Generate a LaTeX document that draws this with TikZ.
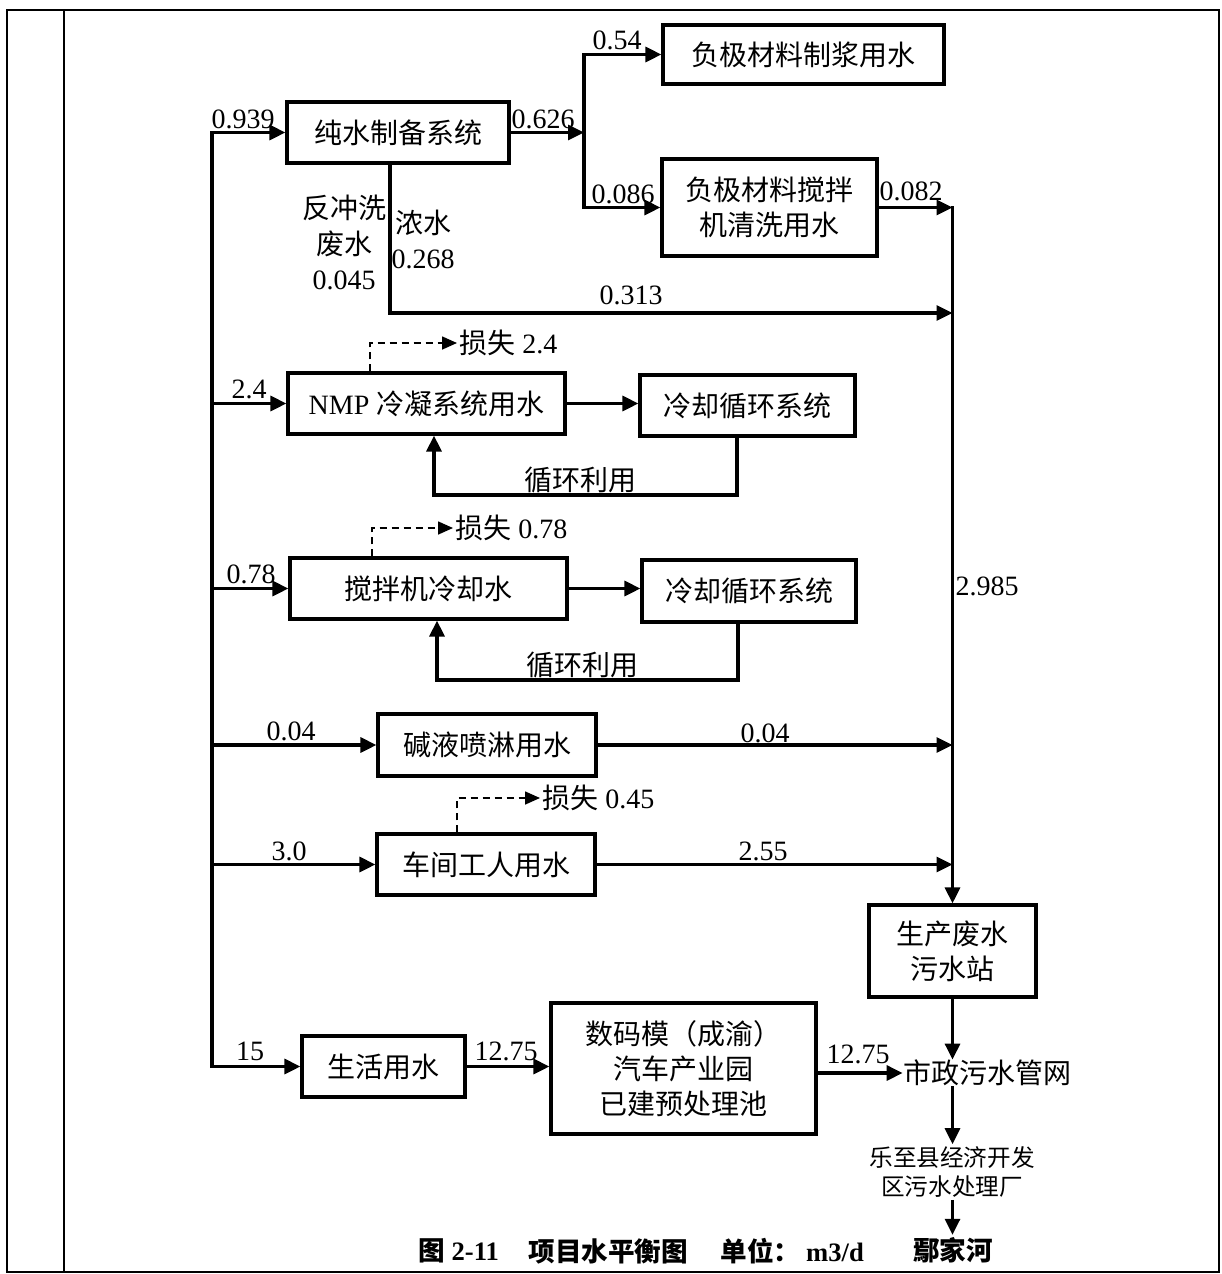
\documentclass[tikz,border=0pt]{standalone}
\usepackage{fontspec}
\setmainfont{Liberation Serif}
\newfontfamily\cjk{Noto Sans CJK SC}
\usetikzlibrary{arrows.meta}
\newcommand\myfs{\fontsize{14pt}{17.5pt}\selectfont}
\newcommand\mysmall{\fontsize{11.8pt}{14.5pt}\selectfont}
\newcommand\mycap{\fontsize{13.3pt}{16pt}\selectfont\bfseries}
\begin{document}
\begin{tikzpicture}[x=0.5pt,y=-0.5pt,
  box/.style={draw, line width=1.6pt, inner sep=0pt, align=center, font=\myfs},
  lbl/.style={inner sep=1pt, align=center, font=\myfs},
  arr/.style={line width=1.6pt, -{Triangle[length=8pt,width=7.5pt]}},
  arrs/.style={line width=1.6pt, line cap=rect, -{Triangle[length=8pt,width=7.5pt]}},
  lossline/.style={line width=0.8pt, dash pattern=on 3.5pt off 2.5pt, -{Triangle[length=7.5pt,width=6.5pt]}}]
\useasboundingbox (0,0) rectangle (1221,1274);
% frame
\draw[line width=1.4pt] (7,10) rectangle (1219,1272);
\draw[line width=0.8pt] (64,10) -- (64,1272);

% boxes
\node[box, minimum width=111pt, minimum height=30.5pt] (pure) at (398,132.5) {\cjk 纯水制备系统};
\node[box, minimum width=140.5pt, minimum height=29.5pt] (slurry) at (803.5,54.5) {\cjk 负极材料制浆用水};
\node[box, minimum width=107.5pt, minimum height=48.5pt] (clean) at (769.5,207.5) {\cjk 负极材料搅拌\\\cjk 机清洗用水};
\node[box, minimum width=138.5pt, minimum height=30.5pt] (nmp) at (426.5,403.5) {NMP {\cjk 冷凝系统用水}};
\node[box, minimum width=107.5pt, minimum height=30.5pt] (cool1) at (747.5,405.5) {\cjk 冷却循环系统};
\node[box, minimum width=138.5pt, minimum height=30.5pt] (mixcool) at (428.5,588.5) {\cjk 搅拌机冷却水};
\node[box, minimum width=107pt, minimum height=31pt] (cool2) at (749,591) {\cjk 冷却循环系统};
\node[box, minimum width=109pt, minimum height=31pt] (alkali) at (487,745) {\cjk 碱液喷淋用水};
\node[box, minimum width=109pt, minimum height=30.5pt] (worker) at (486,864.5) {\cjk 车间工人用水};
\node[box, minimum width=83.5pt, minimum height=46pt] (waste) at (952.5,951) {\cjk 生产废水\\\cjk 污水站};
\node[box, minimum width=81.5pt, minimum height=30.5pt] (life) at (383.5,1066.5) {\cjk 生活用水};
\node[box, minimum width=132.5pt, minimum height=65.5pt] (pre) at (683.5,1068.5) {{\cjk 数码模（成渝）}\\\cjk 汽车产业园\\\cjk 已建预处理池};
\node[inner sep=0pt, font=\myfs] (city) at (987,1073) {\cjk 市政污水管网};
\node[inner sep=1pt, align=center, font=\mysmall] (plant) at (952,1172) {\cjk 乐至县经济开发\\\cjk 区污水处理厂};
\node[inner sep=1pt, font=\mycap] (river) at (953,1250) {\cjk 鄢家河};

% loss labels
\node[lbl, anchor=west] (loss1) at (457,343) {{\cjk 损失} 2.4};
\node[lbl, anchor=west] (loss2) at (453,528) {{\cjk 损失} 0.78};
\node[lbl, anchor=west] (loss3) at (540,798) {{\cjk 损失} 0.45};

% trunk coordinates
\coordinate (tr) at (212,0);
\coordinate (br) at (584,0);

% main trunk
\draw[arr] (pure.west -| tr) |- (life.west);
\draw[arrs] (pure.west -| tr) -- (pure.west);
\draw[arrs] (nmp.west -| tr) -- (nmp.west);
\draw[arrs] (mixcool.west -| tr) -- (mixcool.west);
\draw[arrs] (alkali.west -| tr) -- (alkali.west);
\draw[arrs] (worker.west -| tr) -- (worker.west);

% pure water branch
\draw[arr] (pure.east) -- (pure.east -| br);
\draw[arr] (br |- clean.west) |- (slurry.west);
\draw[arrs] (br |- clean.west) -- (clean.west);

% collector to waste station
\draw[arr] (clean.east) -- (clean.east -| waste.north);
\draw[arrs] (clean.east -| waste.north) -- (waste.north);
\draw[arr] ([xshift=-4pt]pure.south) |- (waste.north |- 0,313);
\draw[arr] (alkali.east) -- (alkali.east -| waste.north);
\draw[arr] (worker.east) -- (worker.east -| waste.north);

% cooling loops
\draw[arr] (nmp.east) -- (nmp.east -| cool1.west);
\draw[arr] ([xshift=-5.25pt]cool1.south) |- (434,495) -- (434,495 |- nmp.south);
\draw[arr] (mixcool.east) -- (mixcool.east -| cool2.west);
\draw[arr] ([xshift=-5.5pt]cool2.south) |- (437,680) -- (437,680 |- mixcool.south);

% losses
\draw[lossline] ([xshift=-28.25pt]nmp.north) |- (loss1.west);
\draw[lossline] ([xshift=-28.25pt]mixcool.north) |- (loss2.west);
\draw[lossline] ([xshift=-14.5pt]worker.north) |- (loss3.west);

% domestic
\draw[arr] (life.east) -- (life.east -| pre.west);
\draw[arr] (pre.east |- city.west) -- (city.west);
\draw[arr] (waste.south) -- (waste.south |- city.north);
\draw[arr] (city.south -| waste.south) -- (plant.north -| waste.south);
\draw[arr] (plant.south -| waste.south) -- (river.north -| waste.south);

% flow labels
\node[lbl] (l0939) at (243,119) {0.939};
\node[lbl] (l0626) at (543,119) {0.626};
\node[lbl] (l054) at (617,40) {0.54};
\node[lbl] (l0086) at (623,194) {0.086};
\node[lbl] (l0082) at (911,191) {0.082};
\node[lbl] (l0313) at (631,295) {0.313};
\node[lbl, font=\fontsize{14pt}{17.75pt}\selectfont] (lback) at (344,242.5) {\cjk 反冲洗\\\cjk 废水\\0.045};
\node[lbl] (lconc) at (423,239.5) {\cjk 浓水\\0.268};
\node[lbl] (l24) at (249,389) {2.4};
\node[lbl] (l078) at (251,574) {0.78};
\node[lbl] (l004a) at (291,731) {0.04};
\node[lbl] (l004b) at (765,733) {0.04};
\node[lbl] (l30) at (289,851) {3.0};
\node[lbl] (l255) at (763,851) {2.55};
\node[lbl] (l15) at (250,1051) {15};
\node[lbl] (l1275a) at (506,1051) {12.75};
\node[lbl] (l1275b) at (858,1054) {12.75};
\node[lbl] (l2985) at (987,586) {2.985};
\node[lbl] (lrec1) at (580,480) {\cjk 循环利用};
\node[lbl] (lrec2) at (582,665) {\cjk 循环利用};

% caption
\node[inner sep=0pt, anchor=west, font=\mycap] (cap1) at (418,1251) {{\cjk 图} 2-11};
\node[inner sep=0pt, anchor=west, font=\mycap] (cap2) at (528,1251) {\cjk 项目水平衡图};
\node[inner sep=0pt, anchor=west, font=\mycap] (cap3) at (720,1251) {{\cjk 单位：}\hspace{3pt}m3/d};
\end{tikzpicture}
\end{document}
